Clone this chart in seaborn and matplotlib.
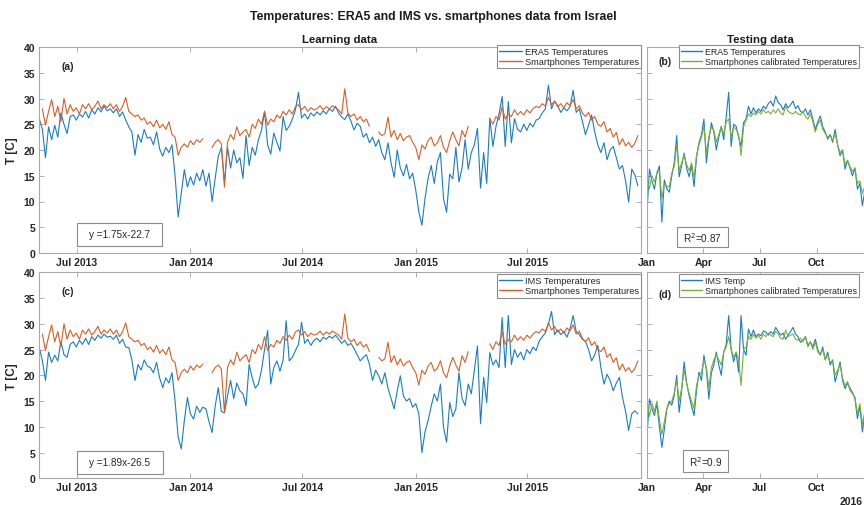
import numpy as np
import pandas as pd
import matplotlib
matplotlib.use("Agg")
import matplotlib.pyplot as plt
import matplotlib.dates as mdates
from matplotlib.lines import Line2D
from matplotlib.patches import Rectangle
import seaborn as sns

nan = np.nan

# ---------------- data ----------------
# Learning period, one sample every 5 days from 2013-05-01
learn_start = "2013-05-01"
era5_learn = [
    26.0, 24.0, 18.5, 24.5, 22.0, 24.8, 22.5, 27.2, 25.0, 23.2, 26.5, 26.8,
    25.8, 27.0, 26.4, 27.5, 26.2, 27.8, 27.0, 28.2, 27.4, 28.5, 27.6, 28.0,
    27.2, 28.0, 26.5, 27.4, 25.8, 24.5, 23.5, 19.0, 23.0, 21.5, 24.0, 22.3,
    22.5, 21.0, 23.5, 20.2, 18.8, 20.5, 19.5, 21.0, 15.0, 7.0, 11.5, 16.2,
    12.8, 14.8, 13.2, 15.5, 14.0, 16.2, 13.0, 15.5, 10.0, 14.5, 18.8, 20.5,
    13.8, 20.5, 16.5, 20.0, 17.5, 18.5, 14.5, 22.8, 17.0, 20.5, 19.0, 22.0,
    23.8, 27.5, 21.0, 19.2, 23.3, 21.5, 19.8, 26.5, 23.8, 24.6, 26.0, 27.8,
    31.2, 26.2, 27.0, 26.0, 27.2, 26.6, 27.4, 26.8, 27.6, 27.0, 28.0, 27.5,
    28.5, 27.2, 26.4, 25.9, 27.0, 25.6, 23.9, 25.2, 24.6, 22.5, 23.2, 21.4,
    22.5, 20.7, 22.0, 19.5, 18.1, 21.4, 17.5, 14.7, 20.0, 16.5, 15.0, 17.2,
    14.4, 15.5, 12.2, 8.0, 5.4, 10.6, 14.5, 17.0, 13.5, 17.7, 19.5, 10.6,
    7.9, 15.3, 14.4, 20.5, 13.8, 16.5, 22.0, 16.3, 19.5, 21.0, 24.2, 12.6,
    19.5, 13.5, 26.2, 20.7, 24.6, 27.0, 30.4, 20.7, 29.4, 21.4, 26.1, 24.0,
    23.5, 25.0, 23.8, 25.2, 24.5, 25.8, 26.1, 27.2, 28.0, 32.6, 28.0, 29.5,
    28.6, 27.3, 28.2, 27.6, 28.4, 31.6, 27.3, 28.0, 25.6, 23.0, 24.8, 26.8,
    23.5, 21.0, 19.5, 21.4, 18.1, 20.0, 20.7, 18.5, 16.3, 17.0, 14.0, 9.9,
    16.3, 15.2, 13.0,
]
ims_learn = [
    25.4, 22.8, 19.0, 24.5, 22.5, 23.9, 22.8, 26.6, 24.0, 23.5, 26.0, 26.5,
    25.5, 26.8, 26.0, 27.2, 26.0, 27.5, 26.8, 27.8, 27.2, 28.0, 27.4, 27.6,
    27.0, 27.8, 26.2, 27.0, 25.5, 25.4, 23.0, 19.0, 22.1, 21.0, 23.0, 21.8,
    21.5, 20.5, 22.5, 19.5, 17.6, 19.5, 18.5, 20.5, 15.0, 8.0, 5.7, 11.2,
    15.7, 12.5, 11.5, 14.0, 12.8, 13.8, 13.5, 11.0, 8.9, 14.0, 17.6, 13.0,
    12.7, 16.0, 19.0, 15.5, 18.5, 17.0, 16.4, 14.1, 22.1, 19.5, 17.5, 18.3,
    21.0, 25.0, 28.7, 18.3, 21.5, 22.8, 20.8, 23.0, 30.6, 22.8, 23.5, 24.8,
    26.0, 30.3, 26.2, 27.0, 25.8, 26.8, 27.2, 26.5, 27.4, 27.0, 27.6, 27.2,
    27.8, 27.0, 26.2, 26.8, 25.8, 26.2, 25.2, 24.0, 22.8, 23.5, 24.0, 22.1,
    19.0, 21.0, 19.9, 18.3, 20.5, 17.5, 15.5, 13.5, 17.0, 19.9, 16.0, 15.0,
    15.5, 13.8, 14.5, 12.5, 5.0, 9.0, 11.2, 14.0, 16.4, 15.0, 18.3, 9.9,
    7.0, 14.7, 12.0, 13.5, 20.5, 15.5, 14.1, 18.3, 16.4, 21.0, 25.7, 10.6,
    19.6, 14.7, 24.4, 22.0, 23.0, 21.5, 31.2, 21.5, 31.6, 22.1, 25.0, 23.5,
    24.5, 23.0, 25.0, 24.2, 25.5, 24.8, 26.6, 27.5, 28.2, 30.0, 32.4, 27.9,
    28.8, 27.9, 28.5, 27.4, 29.0, 31.6, 28.5, 27.9, 27.0, 26.6, 25.0, 22.8,
    24.0, 25.8, 21.5, 18.3, 20.2, 19.0, 17.0, 18.5, 19.6, 15.7, 13.0, 9.3,
    12.5, 13.1, 12.5,
]
phone_learn = [
    nan, 28.0, 24.8, 27.5, 29.8, 26.5, 28.5, 25.5, 30.0, 27.0, 28.8, 27.5,
    28.2, 27.0, 28.8, 28.0, 29.0, 27.8, 28.5, 29.5, 28.0, 28.8, 28.2, 29.0,
    28.0, 28.8, 27.5, 28.5, 30.2, 27.5, 27.0, 26.5, 26.8, 25.8, 26.2, 25.0,
    25.5, 24.5, 25.8, 24.3, 25.0, 24.0, 25.5, 23.0, 22.5, 19.0, 20.5, 21.2,
    20.5, 21.8, 21.0, 22.0, 21.5, 22.2, nan, nan, 20.5, 21.5, 22.0, 21.2,
    12.8, 21.5, 23.0, 22.0, 24.5, 22.8, 23.5, 24.0, 22.5, 25.0, 24.2, 26.0,
    25.0, 27.5, 24.8, 26.0, 25.5, 26.8, 26.2, 27.5, 26.8, 27.8, 27.0, 28.4,
    28.8, 27.8, 28.5, 27.5, 28.2, 27.8, 28.0, 28.6, 27.8, 28.4, 28.0, 28.6,
    28.2, 27.8, 27.0, 31.9, 27.2, 26.5, 27.0, 25.8, 26.5, 25.5, 26.0, 24.6,
    nan, nan, 23.5, 22.8, 23.2, 26.4, 22.5, 23.8, 22.0, 23.2, 21.8, 22.5,
    22.8, 21.5, 20.5, 18.1, 21.0, 20.2, 21.8, 22.5, 20.8, 21.4, 22.8, 20.5,
    19.5, 21.8, 23.5, 22.0, 20.8, 23.8, 22.5, 24.6, nan, nan, nan, nan,
    nan, nan, 26.1, 25.0, 26.5, 25.8, 28.4, 26.0, 27.0, 26.5, 27.8, 26.8,
    27.5, 26.8, 27.8, 27.2, 28.0, 28.5, 28.2, 29.0, 28.5, 30.2, 28.8, 29.5,
    28.4, 29.0, 28.2, 29.2, 28.6, 29.8, 28.0, 28.6, 27.2, 26.5, 27.3, 25.8,
    26.5, 25.0, 24.6, 25.5, 23.5, 24.2, 22.5, 23.4, 21.0, 22.2, 20.8, 21.5,
    20.5, 21.3, 22.8,
]

# Testing period, one sample every 4 days from 2016-01-01
test_start = "2016-01-01"
era5_test = [
    7.9, 16.3, 14.0, 12.4, 15.5, 16.9, 6.0, 14.2, 12.5, 11.8, 15.0, 17.5,
    22.8, 14.8, 17.0, 19.4, 16.5, 14.8, 17.0, 12.9, 18.5, 21.4, 23.0, 26.0,
    17.5, 22.0, 25.3, 23.5, 20.0, 22.5, 24.6, 22.0, 26.5, 31.2, 20.7, 25.0,
    24.6, 22.5, 20.7, 25.3, 26.0, 28.5, 27.0, 28.2, 27.2, 28.0, 27.5, 28.5,
    28.0, 29.0, 29.5, 28.5, 30.5, 29.2, 28.8, 27.8, 29.0, 28.2, 28.8, 29.5,
    28.0, 28.6, 27.5, 27.2, 28.0, 26.8, 27.8, 26.0, 24.0, 25.5, 26.6, 24.5,
    23.5, 22.1, 23.0, 21.5, 24.0, 21.0, 18.9, 20.0, 16.3, 18.0, 16.5, 15.0,
    16.5, 12.4, 13.5, 9.2, 12.0, 14.5, 11.0, 13.0,
]
phone_cal_era5 = [
    14.0, 12.5, 15.0, 13.8, 15.5, 16.0, 10.5, 13.5, 13.0, 12.8, 15.5, 16.8,
    21.0, 16.0, 17.5, 19.0, 17.2, 16.0, 17.5, 14.5, 19.0, 21.0, 22.5, 24.5,
    19.5, 22.5, 24.5, 23.8, 21.5, 23.0, 24.5, 23.0, 25.5, 26.0, 22.5, 24.5,
    24.0, 23.0, 18.9, 24.5, 25.8, 27.0, 26.5, 27.2, 26.8, 27.5, 27.0, 27.8,
    27.2, 27.5, 27.0, 27.8, 27.2, 28.0, 27.2, 26.8, 28.5, 27.5, 27.2, 27.0,
    27.5, 27.0, 26.8, 27.5, 26.5, 26.0, 27.0, 25.5, 23.5, 25.0, 25.8, 24.0,
    23.2, 22.5, 23.0, 21.8, 23.2, 21.0, 19.5, 20.0, 17.2, 18.0, 16.8, 15.8,
    16.5, 13.5, 14.0, 11.5, 13.0, 14.2, 12.0, 13.0,
]
ims_test = [
    8.3, 15.4, 13.5, 12.2, 14.5, 10.0, 6.0, 9.5, 13.5, 15.0, 14.2, 16.1,
    20.0, 12.8, 17.0, 22.6, 18.5, 16.1, 14.0, 12.2, 17.0, 20.6, 19.0, 23.9,
    21.0, 15.4, 20.5, 22.0, 24.5, 22.0, 20.0, 24.5, 26.0, 31.6, 25.0, 22.6,
    24.5, 20.6, 31.6, 25.0, 23.9, 29.0, 27.5, 28.8, 27.5, 28.0, 27.7, 28.6,
    28.4, 27.8, 28.5, 28.0, 29.3, 28.5, 27.8, 28.2, 27.0, 27.8, 28.5, 29.3,
    28.0, 27.5, 26.4, 26.8, 27.5, 25.8, 26.5, 25.5, 27.0, 25.0, 23.9, 25.5,
    23.0, 24.5, 22.0, 23.0, 18.7, 20.5, 22.6, 19.0, 17.4, 18.5, 17.5, 16.7,
    15.5, 11.6, 14.0, 9.0, 12.5, 14.0, 10.5, 12.0,
]
phone_cal_ims = [
    15.0, 12.0, 14.5, 13.0, 15.0, 11.5, 8.5, 11.0, 13.5, 14.5, 15.0, 16.5,
    19.0, 15.0, 17.5, 21.0, 18.5, 16.5, 15.0, 13.5, 18.0, 20.0, 20.5, 23.0,
    21.5, 17.5, 21.5, 23.0, 24.0, 23.0, 22.0, 24.5, 25.5, 27.5, 25.0, 23.5,
    24.5, 23.0, 18.0, 25.0, 25.5, 27.5, 27.0, 28.0, 27.2, 27.8, 27.0, 28.0,
    27.5, 28.2, 27.8, 27.5, 28.5, 28.0, 27.2, 27.0, 28.8, 27.5, 27.8, 28.0,
    27.0, 26.8, 27.2, 26.5, 27.5, 25.5, 26.5, 25.0, 26.5, 24.5, 24.0, 25.0,
    23.0, 24.0, 22.5, 22.8, 20.0, 21.0, 22.0, 19.5, 18.0, 18.8, 17.0, 16.5,
    15.8, 12.5, 14.5, 10.5, 13.0, 14.0, 11.5, 12.5,
]

fit_a = "y =1.75x-22.7"
fit_c = "y =1.89x-26.5"
r2_b = "R$^2$=0.87"
r2_d = "R$^2$=0.9"

learn_ticks = ["2013-07-01", "2014-01-01", "2014-07-01", "2015-01-01", "2015-07-01"]
test_ticks = ["2016-01-01", "2016-04-01", "2016-07-01", "2016-10-01"]
y_ticks = [0, 5, 10, 15, 20, 25, 30, 35, 40]

# ---------------- tables ----------------
learn = pd.DataFrame({
    "date": pd.date_range(learn_start, periods=len(era5_learn), freq="5D"),
    "era5": era5_learn, "ims": ims_learn, "phone": phone_learn,
})
# phone record has gaps: keep each continuous piece as its own unit
learn["seg"] = learn["phone"].isna().cumsum()
phone_df = learn.dropna(subset=["phone"])

test = pd.DataFrame({
    "date": pd.date_range(test_start, periods=len(era5_test), freq="4D"),
    "era5": era5_test, "cal_era5": phone_cal_era5,
    "ims": ims_test, "cal_ims": phone_cal_ims,
})

# ---------------- style ----------------
sns.set_theme(style="ticks")
plt.rcParams["font.family"] = ["Liberation Sans", "DejaVu Sans"]
plt.rcParams.update({
    "xtick.direction": "in", "ytick.direction": "in",
    "xtick.major.size": 3.5, "ytick.major.size": 3.5,
    "xtick.major.width": 0.6, "ytick.major.width": 0.6,
    "xtick.color": "#a0a0a0", "ytick.color": "#a0a0a0",
    "xtick.labelcolor": "#262626", "ytick.labelcolor": "#262626",
    "xtick.major.pad": 3, "ytick.major.pad": 3,
    "axes.edgecolor": "#a8a8a8", "axes.linewidth": 0.8,
})

BLUE = "#1a7cc3"
ORANGE = "#d95f26"
GREEN = "#7bb035"
LW = 0.8
EDGE = "#a8a8a8"

W, H = 864, 506
fig = plt.figure(figsize=(W / 100, H / 100), dpi=100)


def px_axes(x0, y0, x1, y1):
    return fig.add_axes([x0 / W, 1 - y1 / H, (x1 - x0) / W, (y1 - y0) / H])


ax_a = px_axes(39.3, 48.0, 641.0, 254.0)
ax_c = px_axes(39.3, 273.3, 641.0, 479.3)
ax_b = px_axes(647.0, 48.0, 873.5, 254.0)
ax_d = px_axes(647.0, 273.3, 873.5, 479.3)


def style_axes(ax, ticks, fmt, ylabels):
    ax.set_ylim(0, 40)
    ax.set_yticks(y_ticks)
    ax.set_xticks(pd.to_datetime(ticks))
    ax.xaxis.set_major_formatter(mdates.DateFormatter(fmt))
    ax.tick_params(top=True, right=True, labelsize=7.5)
    for s in ax.spines.values():
        s.set_visible(True)
        s.set_color(EDGE)
    if ylabels:
        ax.set_ylabel("T [C]", fontsize=8.5, fontweight="bold", labelpad=4,
                      color="#262626")
    else:
        ax.set_ylabel("")
        ax.tick_params(labelleft=False)
    ax.set_xlabel("")
    for lab in ax.get_xticklabels() + ax.get_yticklabels():
        lab.set_fontweight("bold")


def boxed_text(ax, x0, y0, w, h, text):
    ax.add_patch(Rectangle((x0, y0), w, h, transform=ax.transAxes,
                           facecolor="white", edgecolor="#8c8c8c", lw=0.8,
                           zorder=5))
    ax.text(x0 + w / 2, y0 + h / 2, text, transform=ax.transAxes,
            ha="center", va="center", fontsize=7.2, color="#262626", zorder=6)


def legend(ax, labels, colors, loc, anchor, size):
    handles = [Line2D([0], [0], color=c, lw=1.0, label=l)
               for l, c in zip(labels, colors)]
    lg = ax.legend(handles=handles, loc=loc, bbox_to_anchor=anchor,
                   fontsize=size, frameon=True, fancybox=False,
                   edgecolor="#8c8c8c", framealpha=1, handlelength=2.4,
                   handletextpad=0.3, borderpad=0.25, labelspacing=0.12,
                   borderaxespad=0)
    lg.get_frame().set_linewidth(0.8)
    for t in lg.get_texts():
        t.set_color("#262626")


# ---- learning panels ----
for ax, ref_col, ref_label, tag in [
    (ax_a, "era5", "ERA5 Temperatures", "(a)"),
    (ax_c, "ims", "IMS Temperatures", "(c)"),
]:
    sns.lineplot(data=learn, x="date", y=ref_col, color=BLUE, lw=LW, ax=ax,
                 legend=False)
    sns.lineplot(data=phone_df, x="date", y="phone", units="seg",
                 estimator=None, color=ORANGE, lw=LW, ax=ax, legend=False)
    ax.set_xlim(pd.Timestamp("2013-05-01"), pd.Timestamp("2016-01-01"))
    style_axes(ax, learn_ticks, "%b %Y", True)
    legend(ax, [ref_label, "Smartphones Temperatures"], [BLUE, ORANGE],
           "upper right", (1.0, 1.012 if ax is ax_a else 0.992), 6.7)
    ax.text(0.048, 0.91, tag, transform=ax.transAxes, fontsize=7.5,
            fontweight="bold", ha="center", va="center", color="#262626")

boxed_text(ax_a, 0.0627, 0.034, 0.1413, 0.112, fit_a)
boxed_text(ax_c, 0.0627, 0.021, 0.143, 0.113, fit_c)

# ---- testing panels ----
for ax, ref_col, cal_col, ref_label, tag, ty in [
    (ax_b, "era5", "cal_era5", "ERA5 Temperatures", "(b)", 0.933),
    (ax_d, "ims", "cal_ims", "IMS Temp", "(d)", 0.895),
]:
    sns.lineplot(data=test, x="date", y=ref_col, color=BLUE, lw=LW, ax=ax,
                 legend=False)
    sns.lineplot(data=test, x="date", y=cal_col, color=GREEN, lw=LW, ax=ax,
                 legend=False)
    ax.set_xlim(pd.Timestamp("2016-01-01"), pd.Timestamp("2017-01-01"))
    style_axes(ax, test_ticks, "%b", False)
    legend(ax, [ref_label, "Smartphones calibrated Temperatures"],
           [BLUE, GREEN], "upper left",
           (0.141, 1.01 if ax is ax_b else 0.992), 6.4)
    ax.text(0.08, ty, tag, transform=ax.transAxes, fontsize=7.5,
            fontweight="bold", ha="center", va="center", color="#262626")

boxed_text(ax_b, 0.1325, 0.029, 0.225, 0.097, r2_b)
boxed_text(ax_d, 0.1576, 0.032, 0.201, 0.107, r2_d)

# ---- titles ----
fig.text(433 / W, 1 - 17 / H,
         "Temperatures: ERA5 and IMS vs. smartphones data from Israel",
         ha="center", va="center", fontsize=8.8, fontweight="bold",
         color="#1a1a1a")
fig.text(340 / W, 1 - 40 / H, "Learning data", ha="center", va="center",
         fontsize=8.2, fontweight="bold", color="#1a1a1a")
fig.text(760 / W, 1 - 40 / H, "Testing data", ha="center", va="center",
         fontsize=8.2, fontweight="bold", color="#1a1a1a")
fig.text(851 / W, 1 - 502 / H, "2016", ha="center", va="center",
         fontsize=7.5, fontweight="bold", color="#262626")

fig.savefig("out.png", dpi=100, facecolor="white")
